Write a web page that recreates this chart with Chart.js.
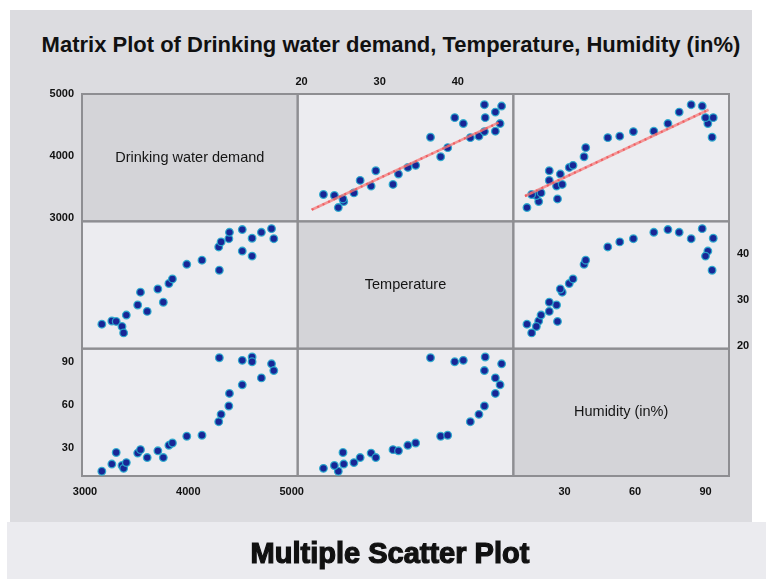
<!DOCTYPE html>
<html>
<head>
<meta charset="utf-8">
<script src="https://cdn.jsdelivr.net/npm/chart.js@4/dist/chart.umd.min.js"></script>
<style>
  body { margin: 0; background: #ffffff; }
  #wrap { position: relative; width: 766px; height: 579px; overflow: hidden; background: #ffffff; }
  #frame { position: absolute; left: 10px; top: 10px; width: 742px; height: 512px; background: #dcdce0; }
  #foot { position: absolute; left: 7px; top: 522px; width: 759px; height: 57px; background: #ebebef; }
  #title { position: absolute; left: 8px; width: 766px; top: 32px; text-align: center;
           font: bold 22px "Liberation Sans", Arial, sans-serif; color: #111; white-space: nowrap; }
  #sub { position: absolute; left: 7px; width: 766px; top: 537px; text-align: center;
         font: bold 29px "Liberation Sans", Arial, sans-serif; color: #111; -webkit-text-stroke: 1.2px #111; white-space: nowrap; }
  canvas { position: absolute; left: 0; top: 0; }
</style>
</head>
<body>
<div id="wrap">
  <div id="frame"></div>
  <div id="foot"></div>
  <div id="title">Matrix Plot of Drinking water demand, Temperature, Humidity (in%)</div>
  <canvas id="c" width="766" height="579"></canvas>
  <div id="sub">Multiple Scatter Plot</div>
</div>
<script>
// Variable names shown on the diagonal
const variables = ['Drinking water demand', 'Temperature', 'Humidity (in%)'];

// One observation per index
const demand = [3163, 3260, 3302, 3358, 3374, 3400, 3510, 3537, 3602, 3705, 3758, 3812, 3846, 3985,
                4132, 4294, 4300, 4317, 4392, 4398, 4522, 4522, 4617, 4617, 4707, 4805, 4827];
const temperature = [24.7, 25.4, 25.3, 24.2, 22.8, 26.7, 28.9, 31.7, 27.5, 32.4, 29.5, 33.6, 34.6, 37.8,
                     38.7, 41.6, 36.5, 42.7, 43.4, 44.8, 45.4, 40.7, 43.5, 39.6, 44.8, 45.6, 43.4];
const humidity = [14, 19, 27, 18, 16, 20, 26.6, 29, 23.5, 28.2, 23.5, 32, 33.6, 38.3,
                  39, 48.4, 92.8, 53.5, 59.3, 68, 74, 91, 93.3, 90, 78.8, 88.6, 83.9];

// Fitted lines of demand against temperature and humidity (end points)
const fitTempX = [21.3, 45.2];
const fitTempY = [3128, 4536];
const fitHumX = [13.2, 91.3];
const fitHumY = [3350, 4745];

// Tick labels
const demandTicks = [3000, 4000, 5000];
const tempTicks = [20, 30, 40];
const humTicks = [30, 60, 90];

// Axis ranges per column (x) and per row (y)
const demandRangeX = [2971, 5058];
const demandRangeY = [2940, 5000];
const tempRangeX = [19.5, 47.1];
const tempRangeY = [19.35, 47.2];
const humRangeX = [8.2, 100];
const humRangeY = [10.7, 99.1];

const FONT = 'Liberation Sans';
Chart.defaults.font.family = FONT;
Chart.defaults.color = '#111';

function pairs(xs, ys) { return xs.map((x, i) => ({ x: x, y: ys[i] })); }

function axis(position, stack, weight, range, tickValues, show, size, pad) {
  return {
    type: 'linear', position: position, stack: stack, weight: weight,
    min: range[0], max: range[1],
    grid: { display: false, drawTicks: false },
    border: { display: false },
    afterBuildTicks: s => { s.ticks = tickValues.map(v => ({ value: v })); },
    afterFit: s => {
      if (position === 'left' || position === 'right') s.width = size; else s.height = size;
    },
    ticks: {
      display: show, padding: pad, autoSkip: false, maxRotation: 0,
      font: { size: 11, weight: 'bold' },
      callback: v => String(v)
    }
  };
}

const pointStyle = {
  pointRadius: 3.8, pointHoverRadius: 3.8,
  pointBackgroundColor: '#182696', pointBorderColor: 'rgba(40,170,205,0.9)', pointBorderWidth: 1.3,
  showLine: false, order: 1
};

function scatterSet(xs, ys, xId, yId) {
  return Object.assign({ data: pairs(xs, ys), xAxisID: xId, yAxisID: yId }, pointStyle);
}

function fitSets(xs, ys, xId, yId) {
  return [
    { data: pairs(xs, ys), xAxisID: xId, yAxisID: yId, showLine: true, pointRadius: 0,
      borderColor: 'rgba(245,120,120,0.75)', borderWidth: 2.6, order: 0 },
    { data: pairs(xs, ys), xAxisID: xId, yAxisID: yId, showLine: true, pointRadius: 0,
      borderColor: '#d8101c', borderWidth: 2, borderDash: [2, 4], order: 0 }
  ];
}

// Panel backgrounds, frames and diagonal captions
const matrixPanels = {
  id: 'matrixPanels',
  beforeDatasetsDraw(chart) {
    const ctx = chart.ctx;
    const cols = ['xD', 'xT', 'xH'].map(id => chart.scales[id]);
    const rows = ['yD', 'yT', 'yH'].map(id => chart.scales[id]);
    ctx.save();
    rows.forEach((ry, r) => cols.forEach((cx, c) => {
      ctx.fillStyle = r === c ? '#d4d4d8' : '#ececf0';
      ctx.fillRect(cx.left, ry.top, cx.width, ry.height);
    }));
    ctx.strokeStyle = '#8e8e92';
    ctx.lineWidth = 2;
    rows.forEach((ry, r) => cols.forEach((cx, c) => {
      ctx.strokeRect(cx.left, ry.top, cx.width, ry.height);
    }));
    ctx.fillStyle = '#151515';
    ctx.font = '14.5px "' + FONT + '"';
    ctx.textAlign = 'center';
    ctx.textBaseline = 'middle';
    variables.forEach((name, i) => {
      const cx = cols[i], ry = rows[i];
      ctx.fillText(name, cx.left + cx.width / 2, ry.top + ry.height / 2);
    });
    ctx.restore();
  }
};

new Chart(document.getElementById('c'), {
  type: 'scatter',
  data: {
    datasets: [
      scatterSet(temperature, demand, 'xT', 'yD'),
      scatterSet(humidity, demand, 'xH', 'yD'),
      scatterSet(demand, temperature, 'xD', 'yT'),
      scatterSet(humidity, temperature, 'xH', 'yT'),
      scatterSet(demand, humidity, 'xD', 'yH'),
      scatterSet(temperature, humidity, 'xT', 'yH'),
      ...fitSets(fitTempX, fitTempY, 'xT', 'yD'),
      ...fitSets(fitHumX, fitHumY, 'xH', 'yD')
    ]
  },
  options: {
    responsive: false,
    animation: false,
    devicePixelRatio: 1,
    layout: { padding: { left: 42, right: 7, top: 76, bottom: 81 } },
    plugins: { legend: { display: false }, tooltip: { enabled: false }, title: { display: false } },
    scales: {
      // bottom row of axes, one per column
      xD: axis('bottom', 'colsB', 1, demandRangeX, demandTicks, true, 22, 9),
      xT: axis('bottom', 'colsB', 2, tempRangeX, tempTicks, false, 22, 9),
      xH: axis('bottom', 'colsB', 3, humRangeX, humTicks, true, 22, 9),
      // top row of axes
      xTopD: axis('top', 'colsT', 3, demandRangeX, demandTicks, false, 18, 5),
      xTopT: axis('top', 'colsT', 2, tempRangeX, tempTicks, true, 18, 5),
      xTopH: axis('top', 'colsT', 1, humRangeX, humTicks, false, 18, 5),
      // left column of axes, one per row
      yD: axis('left', 'rowsL', 3, demandRangeY, demandTicks, true, 40, 8),
      yT: axis('left', 'rowsL', 2, tempRangeY, tempTicks, false, 40, 8),
      yH: axis('left', 'rowsL', 1, humRangeY, humTicks, true, 40, 8),
      // right column of axes
      yRD: axis('right', 'rowsR', 1, demandRangeY, demandTicks, false, 30, 8),
      yRT: axis('right', 'rowsR', 2, tempRangeY, tempTicks, true, 30, 8),
      yRH: axis('right', 'rowsR', 3, humRangeY, humTicks, false, 30, 8)
    }
  },
  plugins: [matrixPanels]
});
</script>
</body>
</html>
